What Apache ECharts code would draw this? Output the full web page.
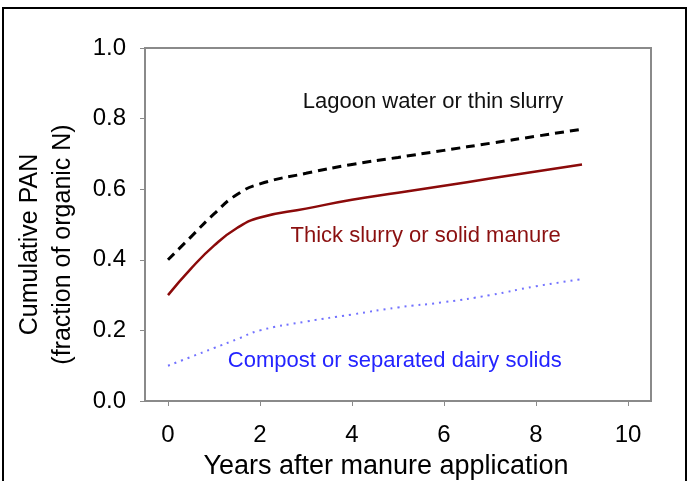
<!DOCTYPE html>
<html>
<head>
<meta charset="utf-8">
<style>
  html, body { margin: 0; padding: 0; background: #fff; }
  #pan-chart { width: 689px; height: 481px; }
</style>
<script src="https://cdn.jsdelivr.net/npm/echarts@6/dist/echarts.min.js"></script>
</head>
<body>
<div id="pan-chart"></div>
<script>
// years after application
const years = [0, 0.5, 1, 1.5, 2, 3, 4, 5, 6, 7, 8, 9];
// cumulative PAN, fraction of organic N
const lagoon = [0.40, 0.465, 0.53, 0.585, 0.615, 0.645, 0.67, 0.69, 0.71, 0.73, 0.75, 0.77];
const thick = [0.30, 0.375, 0.44, 0.49, 0.52, 0.545, 0.57, 0.59, 0.61, 0.63, 0.65, 0.67];
const compost = [0.10, 0.125, 0.15, 0.175, 0.20, 0.225, 0.245, 0.265, 0.28, 0.30, 0.325, 0.345];
const xTicks = [0, 2, 4, 6, 8, 10];
const seriesNames = ["Lagoon water or thin slurry", "Thick slurry or solid manure", "Compost or separated dairy solids"];
// where each curve's label sits, in data units
const labelAt = [[5.76, 0.847], [5.6, 0.469], [4.93, 0.114]];

const font = "Liberation Sans, Arial, sans-serif";
const axisGrey = "#8a8a8a";

let pairs = (ys) => years.map((x, i) => [x, ys[i]]);

let note = (i, color) => ({
  symbol: "circle",
  symbolSize: 0,
  silent: true,
  data: [{
    coord: labelAt[i],
    label: {
      show: true,
      position: "inside",
      formatter: seriesNames[i],
      color: color,
      fontSize: 22,
      fontFamily: font,
    },
  }],
});

let chart = echarts.init(document.getElementById("pan-chart"));

var option = {
  animation: false,
  graphic: [
    {
      type: "rect",
      shape: { x: 3, y: 8, width: 683, height: 480 },
      style: { fill: "none", stroke: "#000", lineWidth: 2 },
    },
  ],
  grid: {
    left: 145,
    right: 38,
    top: 48,
    bottom: 80,
    outerBoundsMode: "none",
    show: true,
    borderColor: axisGrey,
    borderWidth: 2,
  },
  xAxis: {
    type: "value",
    min: -0.5,
    max: 10.5,
    name: "Years after manure application",
    nameLocation: "middle",
    nameGap: 52,
    // text sits a little left of the plot centre in the original
    nameTextStyle: { fontSize: 27, color: "#000", fontFamily: font, padding: [0, 24, 0, 0] },
    axisLine: { show: true, onZero: false, lineStyle: { color: axisGrey, width: 2 } },
    axisTick: { show: true, length: 5, lineStyle: { color: axisGrey }, customValues: xTicks },
    splitLine: { show: false },
    axisLabel: {
      fontSize: 24,
      color: "#000",
      fontFamily: font,
      margin: 22,
      customValues: xTicks,
    },
  },
  yAxis: {
    type: "value",
    min: 0,
    max: 1,
    interval: 0.2,
    name: "Cumulative PAN\n(fraction of organic N)",
    nameLocation: "middle",
    nameGap: 65,
    // shifted down a bit, like the original
    nameTextStyle: { fontSize: 25, color: "#000", fontFamily: font, lineHeight: 33, padding: [0, 40, 0, 0] },
    axisLine: { show: true, onZero: false, lineStyle: { color: axisGrey, width: 2 } },
    axisTick: { show: true, length: 5, lineStyle: { color: axisGrey } },
    splitLine: { show: false },
    axisLabel: {
      fontSize: 24,
      color: "#000",
      fontFamily: font,
      margin: 19,
      formatter: (v) => v.toFixed(1),
    },
  },
  series: [
    {
      name: seriesNames[0],
      type: "line",
      smooth: true,
      showSymbol: false,
      data: pairs(lagoon),
      lineStyle: { color: "#000", width: 3, type: [9, 6] },
      markPoint: note(0, "#111"),
    },
    {
      name: seriesNames[1],
      type: "line",
      smooth: true,
      showSymbol: false,
      data: pairs(thick),
      lineStyle: { color: "#8b0a0a", width: 2.5 },
      markPoint: note(1, "#8b1010"),
    },
    {
      name: seriesNames[2],
      type: "line",
      smooth: true,
      showSymbol: false,
      data: pairs(compost),
      lineStyle: { color: "#7272ff", width: 2, type: [2, 5] },
      markPoint: note(2, "#2424ff"),
    },
  ],
};

chart.setOption(option);
window.onresize = function () {
  chart.resize();
};
</script>
</body>
</html>
